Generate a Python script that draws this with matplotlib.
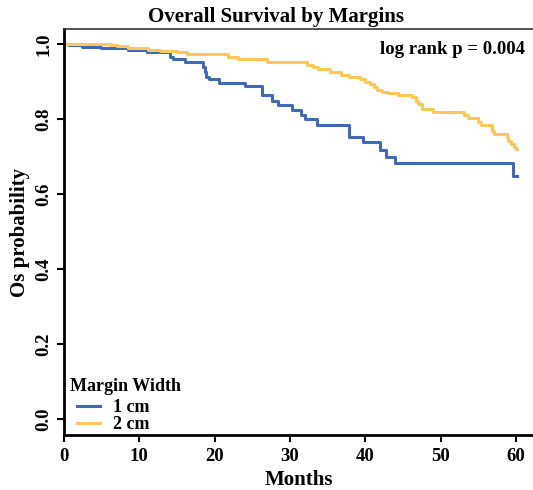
import numpy as np
import matplotlib.pyplot as plt

# Kaplan-Meier steps (months, survival)
t_1cm = [0, 0.6, 2.4, 4.9, 8.5, 11.0, 14.1, 14.5, 16.1, 18.5, 18.7, 18.8, 19.2, 20.6,
         24.0, 26.3, 27.6, 28.4, 30.3, 31.5, 32.0, 33.6, 37.8, 39.7, 41.9, 42.8, 43.9,
         59.6, 60.1]
s_1cm = [1.0, 0.997, 0.993, 0.989, 0.983, 0.978, 0.964, 0.959, 0.953, 0.939, 0.926,
         0.913, 0.907, 0.897, 0.887, 0.864, 0.848, 0.837, 0.824, 0.811, 0.799, 0.785,
         0.753, 0.738, 0.717, 0.699, 0.682, 0.648, 0.648]

t_2cm = [0, 6.1, 7.0, 8.5, 11.2, 12.7, 15.0, 16.3, 19.6, 21.8, 23.1, 26.9, 32.2, 33.1,
         33.7, 35.3, 36.8, 37.8, 39.3, 40.0, 40.6, 41.1, 41.5, 42.2, 43.0, 44.3, 46.2,
         46.7, 47.0, 47.5, 49.0, 53.1, 53.6, 55.0, 55.4, 56.8, 57.1, 58.8, 59.0, 59.4,
         59.7, 60.0, 60.1]
s_2cm = [1.0, 0.997, 0.995, 0.990, 0.985, 0.982, 0.978, 0.974, 0.972, 0.966, 0.959,
         0.952, 0.944, 0.938, 0.933, 0.926, 0.917, 0.913, 0.906, 0.899, 0.893, 0.885,
         0.877, 0.871, 0.869, 0.864, 0.858, 0.849, 0.840, 0.827, 0.818, 0.811, 0.802,
         0.793, 0.784, 0.769, 0.759, 0.751, 0.741, 0.733, 0.726, 0.719, 0.719]

plt.rcParams['font.family'] = 'Liberation Serif'
plt.rcParams['font.weight'] = 'bold'

W, H = 533, 490
fig = plt.figure(figsize=(W / 100, H / 100), dpi=100)
ax = fig.add_axes([64 / W, 55 / H, (W - 64) / W, 406 / H])

ax.plot(t_1cm, s_1cm, drawstyle='steps-post', color='#4169B8', lw=2.2, label='1 cm')
ax.plot(t_2cm, s_2cm, drawstyle='steps-post', color='#FFC75A', lw=2.2, label='2 cm')

ax.set_xlim(0, 62.26)
ax.set_ylim(-0.043, 1.04)
ax.set_xticks([0, 10, 20, 30, 40, 50, 60])
ax.set_yticks([0.0, 0.2, 0.4, 0.6, 0.8, 1.0])
ax.set_yticklabels(['0.0', '0.2', '0.4', '0.6', '0.8', '1.0'], rotation=90, va='center')

ax.spines['right'].set_visible(False)
ax.spines['top'].set_linewidth(1.2)
ax.spines['top'].set_color('#333333')
ax.spines['left'].set_linewidth(2)
ax.spines['bottom'].set_linewidth(2)
ax.tick_params(direction='out', length=5, width=1.5, labelsize=13.5)
ax.tick_params(axis='x', pad=4)

ax.set_title('Overall Survival by Margins', fontsize=15, fontweight='bold', pad=5, x=0.453)
ax.set_xlabel('Months', fontsize=15, fontweight='bold', labelpad=4)
ax.set_ylabel('Os probability', fontsize=15, fontweight='bold', labelpad=4)
ax.text(0.983, 0.97, 'log rank p = 0.004', transform=ax.transAxes, ha='right', va='top',
        fontsize=13.5, fontweight='bold')

# legend title drawn separately so the keys sit indented under it
fig.text(70 / W, 1 - 386 / H, 'Margin Width', ha='left', va='center',
         fontsize=13, fontweight='bold')
leg = ax.legend(loc='lower left', bbox_to_anchor=(77 / W, 1 - 433 / H),
                bbox_transform=fig.transFigure, frameon=False, fontsize=13,
                handlelength=1.3, borderaxespad=0, borderpad=0, labelspacing=0.0,
                handletextpad=0.7)

fig.savefig('out.png', dpi=100)
